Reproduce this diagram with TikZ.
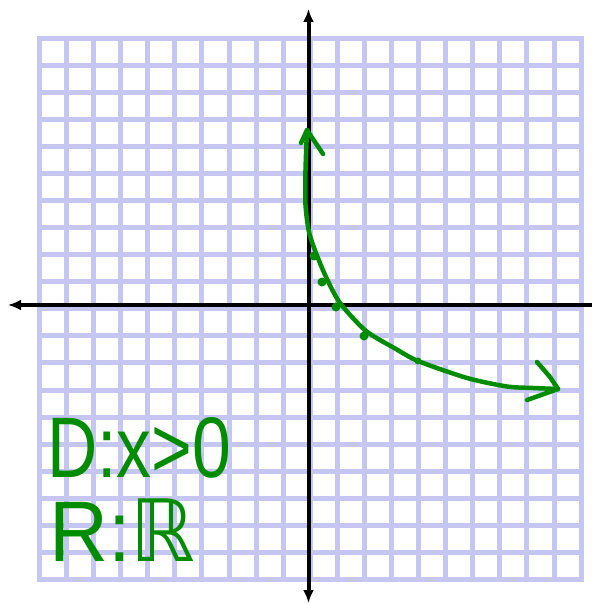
\documentclass[tikz,border=0pt]{standalone}
\usepackage{fontspec}
\setmainfont{Liberation Sans}
\newfontfamily\djfont{DejaVu Sans}
\usetikzlibrary{arrows.meta}
\definecolor{gridblue}{RGB}{198,198,242}
\definecolor{pengreen}{RGB}{0,140,0}
\tikzset{
  gridline/.style={draw=gridblue, line width=5pt},
  axisline/.style={draw=black, line width=4pt},
  penline/.style={draw=pengreen, line width=4.5pt, line cap=round, line join=round},
  pendot/.style={fill=pengreen},
  pentext/.style={text=pengreen, inner sep=0pt, anchor=base west, font=\fontsize{86}{86}\selectfont}
}
\begin{document}
\begin{tikzpicture}[x=1pt,y=-1pt]
\useasboundingbox (0,0) rectangle (592,604);
\fill[white] (0,0) rectangle (592,604);
% grid
\foreach \i in {0,...,20}{
  \draw[gridline] ({39.5+27.08*\i},36) -- ({39.5+27.08*\i},582);
  \draw[gridline] (37,{38.5+27.04*\i}) -- (584,{38.5+27.04*\i});
}
% axes
\coordinate (ytop) at (308.5,9);
\coordinate (ybot) at (308.5,603);
\coordinate (xleft) at (8,305);
\coordinate (xright) at (592,305);
\draw[axisline, {Latex[length=13pt,width=11pt]}-{Latex[length=13pt,width=11pt]}] (ybot) -- (ytop);
\draw[axisline, {Latex[length=13pt,width=11pt]}-] (xleft) -- (xright);
% curve
\draw[penline] plot[smooth, tension=0.45] coordinates {
 (307,130) (305.5,170) (305.5,205) (309,232) (316,253) (326,277) (340,303)
 (366,331) (396,349) (418,361) (467,378) (507,386.5) (533,388) (558,389)};
% arrowheads
\draw[penline] (301,143) -- (307,130) -- (323,154);
\draw[penline] (537,362) -- (550,377) -- (558,389) -- (527,400);
% dots
\fill[pendot] (314,256) circle (4.5pt);
\fill[pendot] (322,282) circle (4.5pt);
\fill[pendot] (336,307) circle (4.5pt);
\fill[pendot] (364,336) circle (4.5pt);
\fill[pendot] (418,361) circle (3.5pt);
% text
\node[pentext] (dom) at (47,477) {\scalebox{0.81}[1]{D:x>0}};
\node[pentext] (ran) at (49,561) {\scalebox{0.95}[1]{R:{\djfont ℝ}}};
\end{tikzpicture}
\end{document}
